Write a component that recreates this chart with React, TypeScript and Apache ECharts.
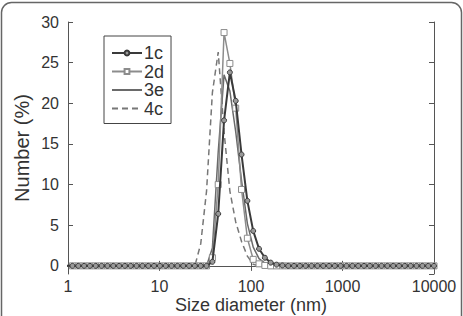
import React, { useEffect, useRef } from "react";
import * as echarts from "echarts";

// Size bins (nm)
const sizes = [0.9649, 1.117, 1.294, 1.499, 1.736, 2.01, 2.328, 2.696, 3.122, 3.615,
  4.187, 4.849, 5.615, 6.503, 7.531, 8.721, 10.1, 11.7, 13.54, 15.69,
  18.17, 21.04, 24.36, 28.21, 32.67, 37.84, 43.82, 50.75, 58.77, 68.06,
  78.82, 91.28, 105.7, 122.4, 141.8, 164.2, 190.1, 220.2, 255, 295.3,
  342, 396.1, 458.7, 531.2, 615.1, 712.4, 825, 955.4, 1106, 1281,
  1484, 1718, 1990, 2305, 2669, 3091, 3580, 4145, 4801, 5560,
  6439, 7456, 8635, 10000];

const s1c = [0, 0, 0, 0, 0, 0, 0, 0, 0, 0,
  0, 0, 0, 0, 0, 0, 0, 0, 0, 0,
  0, 0, 0, 0, 0, 0.5, 6.4, 17.9, 23.8, 20.3,
  13.7, 8.0, 4.3, 2.1, 1.0, 0.4, 0.15, 0.05, 0, 0,
  0, 0, 0, 0, 0, 0, 0, 0, 0, 0,
  0, 0, 0, 0, 0, 0, 0, 0, 0, 0,
  0, 0, 0, 0];

const s2d = [0, 0, 0, 0, 0, 0, 0, 0, 0, 0,
  0, 0, 0, 0, 0, 0, 0, 0, 0, 0,
  0, 0, 0, 0, 0, 1.0, 10.0, 28.7, 24.9, 19.4,
  9.4, 3.4, 0.8, 0.25, 0.05, 0, 0, 0, 0, 0,
  0, 0, 0, 0, 0, 0, 0, 0, 0, 0,
  0, 0, 0, 0, 0, 0, 0, 0, 0, 0,
  0, 0, 0, 0];

const s3e = [0, 0, 0, 0, 0, 0, 0, 0, 0, 0,
  0, 0, 0, 0, 0, 0, 0, 0, 0, 0,
  0, 0, 0, 0, 0, 2.2, 14.0, 23.5, 21.5, 16.5,
  10.5, 5.2, 2.3, 0.9, 0.35, 0.1, 0, 0, 0, 0,
  0, 0, 0, 0, 0, 0, 0, 0, 0, 0,
  0, 0, 0, 0, 0, 0, 0, 0, 0, 0,
  0, 0, 0, 0];

const s4c = [0, 0, 0, 0, 0, 0, 0, 0, 0, 0,
  0, 0, 0, 0, 0, 0, 0, 0, 0, 0,
  0, 0, 0, 2.7, 9.2, 21.3, 26.3, 16.5, 9.2, 5.4,
  3.0, 1.2, 0.2, 0, 0, 0, 0, 0, 0, 0,
  0, 0, 0, 0, 0, 0, 0, 0, 0, 0,
  0, 0, 0, 0, 0, 0, 0, 0, 0, 0,
  0, 0, 0, 0];

const seriesNames = ["1c", "2d", "3e", "4c"];
const xTicks = [1, 10, 100, 1000, 10000];

const FONT = "Liberation Sans, Arial, sans-serif";

export default function App() {
  const ref = useRef<HTMLDivElement>(null);
  useEffect(() => {
    if (!ref.current) return;
    const chart = echarts.init(ref.current, undefined, { renderer: "svg" });
    const pairs = (v: number[]) => sizes.map((s, i) => [s, v[i]]);
    const axisLine = { show: true, lineStyle: { color: "#555", width: 1 } };
    const xCommon = {
      type: "log" as const,
      logBase: 10,
      min: xTicks[0],
      max: xTicks[xTicks.length - 1],
      axisLine,
      axisTick: { show: true, inside: true, length: 5, lineStyle: { color: "#555" } },
      minorTick: { show: false },
      splitLine: { show: false },
    };
    const yCommon = {
      type: "value" as const,
      min: -1,
      max: 30,
      axisLine,
      axisTick: { show: true, inside: true, length: 5, lineStyle: { color: "#555" } },
      splitLine: { show: false },
    };
    chart.setOption({
      animation: false,
      backgroundColor: "#fff",
      textStyle: { fontFamily: FONT },
      graphic: [
        {
          type: "rect",
          shape: { x: 1.5, y: 2.5, width: 460, height: 340, r: 10 },
          style: { fill: "none", stroke: "#666", lineWidth: 1.5 },
          silent: true,
          z: 100,
        },
      ],
      grid: {
        left: 68,
        top: 22,
        right: 29,
        bottom: 42,
        containLabel: false,
        outerBoundsMode: "none",
      },
      legend: {
        data: seriesNames,
        orient: "vertical",
        left: 104,
        top: 36,
        itemWidth: 30,
        itemHeight: 6,
        itemGap: 0.5,
        padding: [8, 7, 6, 7],
        borderColor: "#444",
        borderWidth: 1,
        backgroundColor: "#fff",
        textStyle: {
          fontSize: 18,
          color: "#333",
          fontFamily: FONT,
          padding: [0, 0, 0, -3],
          lineHeight: 18,
        },
      },
      xAxis: [
        {
          ...xCommon,
          position: "bottom",
          axisLabel: {
            fontSize: 16,
            color: "#333",
            margin: 4,
            fontFamily: FONT,
            formatter: (v: number) => String(v),
          },
          name: "Size diameter (nm)",
          nameLocation: "middle",
          nameGap: 22,
          nameMoveOverlap: false,
          nameTextStyle: { fontSize: 18, lineHeight: 18, color: "#333", fontFamily: FONT },
        },
        { ...xCommon, position: "top", axisLabel: { show: false } },
      ],
      yAxis: [
        {
          ...yCommon,
          position: "left",
          axisLabel: {
            fontSize: 16,
            color: "#333",
            margin: 9,
            fontFamily: FONT,
            showMinLabel: false,
            formatter: (v: number) => (v < 0 ? "" : String(v)),
          },
          name: "Number (%)",
          nameLocation: "middle",
          nameGap: 36,
          nameMoveOverlap: false,
          nameTextStyle: { fontSize: 20, color: "#333", fontFamily: FONT },
        },
        { ...yCommon, position: "right", axisLabel: { show: false } },
      ],
      series: [
        {
          name: "4c",
          type: "line",
          data: pairs(s4c),
          symbol: "circle",
          showSymbol: false,
          lineStyle: { color: "#777", width: 1.5, type: [6, 4] },
          itemStyle: { color: "rgba(0,0,0,0)", borderColor: "rgba(0,0,0,0)" },
          z: 2,
        },
        {
          name: "3e",
          type: "line",
          data: pairs(s3e),
          symbol: "circle",
          showSymbol: false,
          lineStyle: { color: "#6a6a6a", width: 1.5 },
          itemStyle: { color: "rgba(0,0,0,0)", borderColor: "rgba(0,0,0,0)" },
          z: 3,
        },
        {
          name: "2d",
          type: "line",
          data: pairs(s2d),
          symbol: "rect",
          symbolSize: 6,
          showAllSymbol: true,
          lineStyle: { color: "#8c8c8c", width: 1.5 },
          itemStyle: { color: "#fff", borderColor: "#8c8c8c", borderWidth: 1 },
          z: 4,
        },
        {
          name: "1c",
          type: "line",
          data: pairs(s1c),
          symbol: "circle",
          symbolSize: 5,
          showAllSymbol: true,
          lineStyle: { color: "#3a3a3a", width: 2 },
          itemStyle: { color: "#999", borderColor: "#3a3a3a", borderWidth: 1 },
          z: 5,
        },
      ],
    });
    return () => chart.dispose();
  }, []);
  return (
    <div
      ref={ref}
      style={{ position: "fixed", left: 0, top: 0, width: 463, height: 316 }}
    />
  );
}
